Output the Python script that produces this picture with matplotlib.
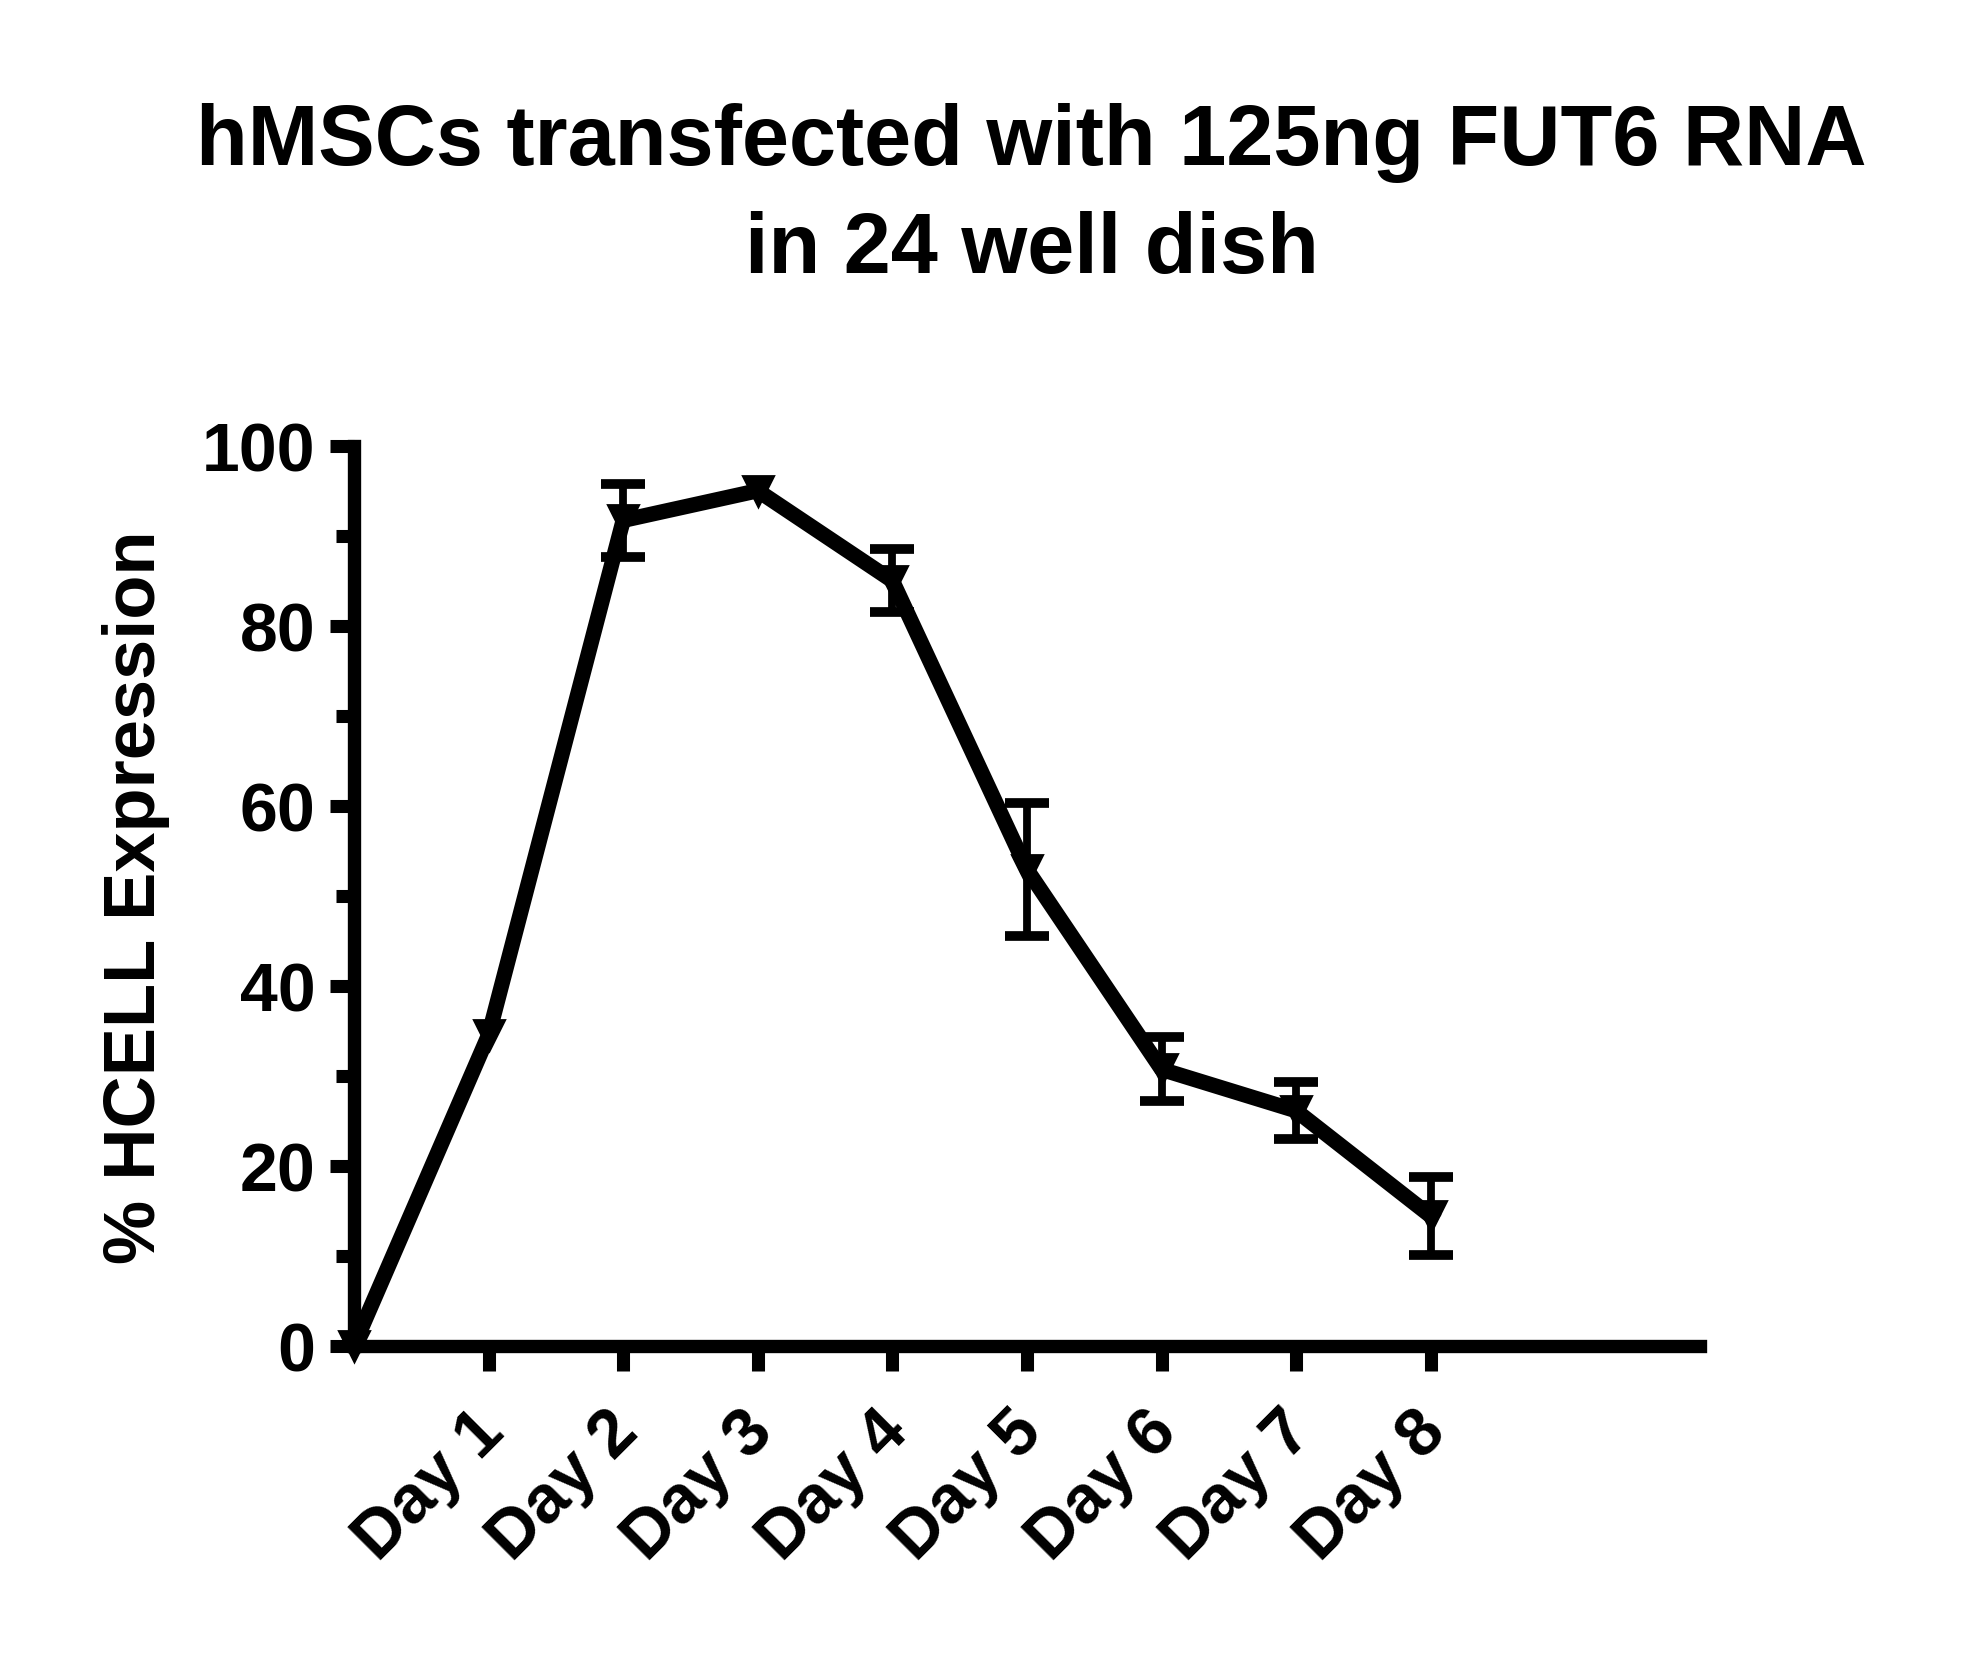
import matplotlib
matplotlib.use("Agg")
import matplotlib.pyplot as plt
import matplotlib.transforms as mtransforms
import numpy as np
from matplotlib.ticker import MultipleLocator, FixedLocator

plt.rcParams['font.family'] = ['Liberation Sans', 'DejaVu Sans']
plt.rcParams['font.weight'] = 'bold'

# ---- data ----
days = [0, 1, 2, 3, 4, 5, 6, 7, 8]
tick_days = [1, 2, 3, 4, 5, 6, 7, 8]
tick_labels = ['Day 1', 'Day 2', 'Day 3', 'Day 4', 'Day 5', 'Day 6', 'Day 7', 'Day 8']
hcell_pct = [0, 34.5, 91.7, 95.0, 85.0, 52.9, 30.7, 26.1, 14.4]
hcell_err = [0, 0, 4.05, 0, 3.5, 7.4, 3.55, 3.15, 4.3]

title_text = "hMSCs transfected with 125ng FUT6 RNA\nin 24 well dish"
ylabel_text = "% HCELL Expression"

fig = plt.figure(figsize=(19.62, 16.58), dpi=100)
ax = fig.add_axes([0.1804, 0.18776, 0.6861, 0.54282])

x = np.array(days, dtype=float)
y = np.array(hcell_pct, dtype=float)
e = np.array(hcell_err, dtype=float)
has_err = e > 0

ax.errorbar(x[has_err], y[has_err], yerr=e[has_err], fmt='none', ecolor='black',
            elinewidth=5.6, capsize=15.5, capthick=7, clip_on=False, zorder=2)
ax.plot(x, y, '-', color='black', lw=11, marker='v', ms=22, mew=2,
        mfc='black', mec='black', clip_on=False, zorder=3,
        solid_joinstyle='round')

ax.set_xlim(0, 10)
ax.set_ylim(0, 100)

for s in ['top', 'right']:
    ax.spines[s].set_visible(False)
for s in ['left', 'bottom']:
    ax.spines[s].set_linewidth(9.6)
    ax.spines[s].set_color('black')

ax.yaxis.set_major_locator(MultipleLocator(20))
ax.yaxis.set_minor_locator(MultipleLocator(10))
ax.xaxis.set_major_locator(FixedLocator(tick_days))
ax.set_xticklabels(tick_labels, rotation=45, ha='right', va='center',
                   rotation_mode='anchor', fontsize=49, fontweight='bold')

ax.tick_params(axis='y', which='major', direction='out', length=17.3, width=9.4,
               labelsize=49, pad=10.5)
ax.tick_params(axis='y', which='minor', direction='out', length=13, width=9.4)
ax.tick_params(axis='x', which='major', direction='out', length=18, width=9.4,
               pad=36)
for lab in ax.get_yticklabels():
    lab.set_fontweight('bold')

shift = mtransforms.ScaledTranslation(0.05, 0, fig.dpi_scale_trans)
for lab in ax.get_xticklabels():
    lab.set_transform(lab.get_transform() + shift)

ax.set_ylabel(ylabel_text, fontsize=52, fontweight='bold')
ax.yaxis.set_label_coords(-0.1367, 0.5)

fig.text(0.5258, 1 - 273 / 1658, title_text, ha='center', va='baseline',
         fontsize=61, fontweight='bold', linespacing=1.455, multialignment='center')

fig.savefig('out.png', dpi=100, facecolor='white')
